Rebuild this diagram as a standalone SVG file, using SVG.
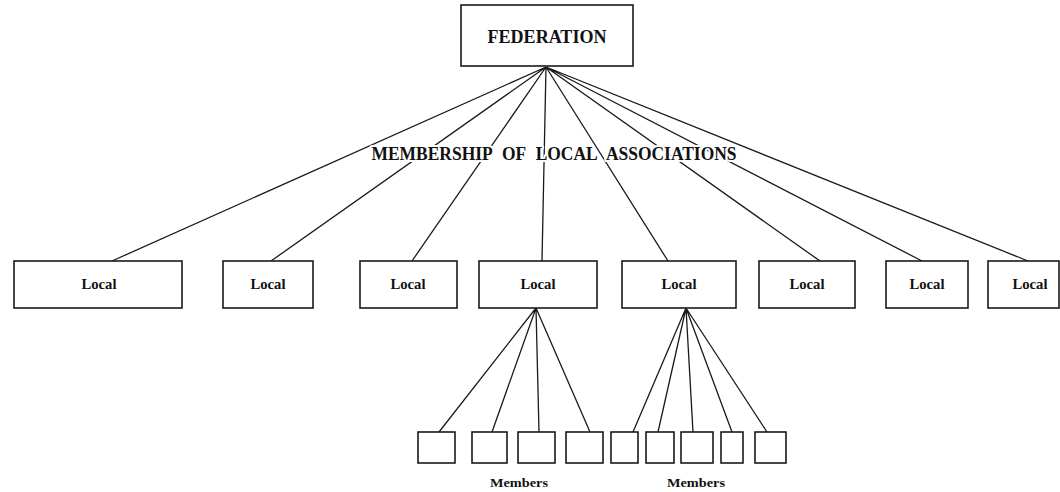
<svg xmlns="http://www.w3.org/2000/svg" width="1060" height="492" viewBox="0 0 1060 492">
<style>
.box{fill:#fff;stroke:#1a1a1a;stroke-width:1.6}
.ln{stroke:#1a1a1a;stroke-width:1.3;fill:none}
.t{font-family:"Liberation Serif",serif;font-weight:bold;fill:#111;text-anchor:middle}
.halo{stroke:#fff;stroke-width:4;paint-order:stroke;stroke-linejoin:round}
</style>
<rect width="1060" height="492" fill="#fff"/>
<g id="connectors">
<path class="ln" d="M546 67L112 261M546 67L271 261M546 67L412 261M546 67L542 261M546 67L668 261M546 67L820 261M546 67L922 261M546 67L1028 261"/>
<path class="ln" d="M536 308L439 432M536 308L492 432M536 308L539 432M536 308L590 432"/>
<path class="ln" d="M686 308L633 432M686 308L658 432M686 308L693 432M686 308L732 432M686 308L767 432"/>
</g>
<g id="federation"><rect class="box" x="461" y="5" width="172" height="61"/><text class="t" x="547" y="43" font-size="18" textLength="119" lengthAdjust="spacingAndGlyphs">FEDERATION</text></g>
<g id="label"><text class="t halo" x="554" y="160" font-size="18" textLength="365" lengthAdjust="spacingAndGlyphs" word-spacing="6">MEMBERSHIP OF LOCAL ASSOCIATIONS</text></g>
<g id="local1"><rect class="box" x="14" y="261" width="168" height="47"/><text class="t" x="99" y="289" font-size="14.5" textLength="35" lengthAdjust="spacingAndGlyphs">Local</text></g>
<g id="local2"><rect class="box" x="223" y="261" width="90" height="47"/><text class="t" x="268" y="289" font-size="14.5" textLength="35" lengthAdjust="spacingAndGlyphs">Local</text></g>
<g id="local3"><rect class="box" x="360" y="261" width="97" height="47"/><text class="t" x="408" y="289" font-size="14.5" textLength="35" lengthAdjust="spacingAndGlyphs">Local</text></g>
<g id="local4"><rect class="box" x="479" y="261" width="118" height="47"/><text class="t" x="538" y="289" font-size="14.5" textLength="35" lengthAdjust="spacingAndGlyphs">Local</text></g>
<g id="local5"><rect class="box" x="622" y="261" width="114" height="47"/><text class="t" x="679" y="289" font-size="14.5" textLength="35" lengthAdjust="spacingAndGlyphs">Local</text></g>
<g id="local6"><rect class="box" x="759" y="261" width="96" height="47"/><text class="t" x="807" y="289" font-size="14.5" textLength="35" lengthAdjust="spacingAndGlyphs">Local</text></g>
<g id="local7"><rect class="box" x="886" y="261" width="82" height="47"/><text class="t" x="927" y="289" font-size="14.5" textLength="35" lengthAdjust="spacingAndGlyphs">Local</text></g>
<g id="local8"><rect class="box" x="988" y="261" width="71" height="47"/><text class="t" x="1030" y="289" font-size="14.5" textLength="35" lengthAdjust="spacingAndGlyphs">Local</text></g>
<g id="member1"><rect class="box" x="418" y="432" width="37" height="31"/></g>
<g id="member2"><rect class="box" x="472" y="432" width="35" height="31"/></g>
<g id="member3"><rect class="box" x="518" y="432" width="37" height="31"/></g>
<g id="member4"><rect class="box" x="566" y="432" width="37" height="31"/></g>
<g id="member5"><rect class="box" x="611" y="432" width="27" height="31"/></g>
<g id="member6"><rect class="box" x="646" y="432" width="28" height="31"/></g>
<g id="member7"><rect class="box" x="681" y="432" width="32" height="31"/></g>
<g id="member8"><rect class="box" x="721" y="432" width="22" height="31"/></g>
<g id="member9"><rect class="box" x="755" y="432" width="31" height="31"/></g>
<g id="members-labels">
<text class="t" x="519" y="487" font-size="13" textLength="58" lengthAdjust="spacingAndGlyphs">Members</text>
<text class="t" x="696" y="487" font-size="13" textLength="58" lengthAdjust="spacingAndGlyphs">Members</text>
</g>
</svg>
